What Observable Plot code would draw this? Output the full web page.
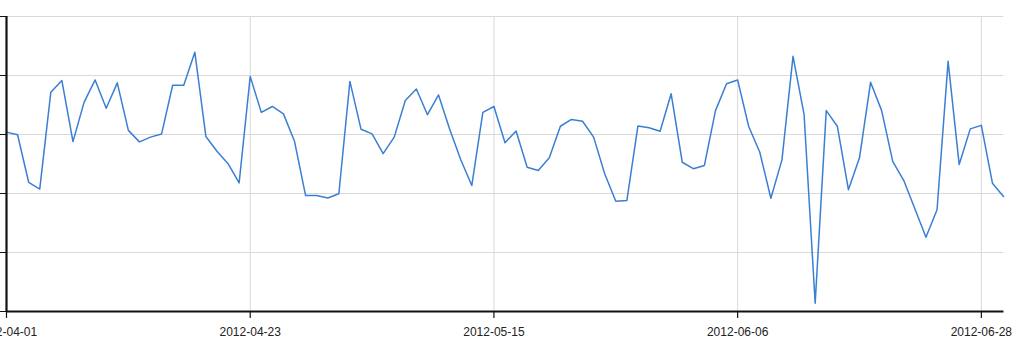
<!DOCTYPE html>
<html>
<head>
<meta charset="utf-8">
<script src="https://cdn.jsdelivr.net/npm/d3@7"></script>
<script src="https://cdn.jsdelivr.net/npm/@observablehq/plot@0.6"></script>
<style>
  html, body { margin: 0; padding: 0; background: #fff; overflow: hidden; }
  #chart svg { display: block; }
</style>
</head>
<body>
<div id="chart"></div>
<script>
const startDate = "2012-04-01";
const endDate = "2012-06-30";
const values = [
  60.8, 59.9, 43.8, 41.5, 74.3, 78.3, 57.6, 70.9, 78.5, 68.9,
  77.5, 61.4, 57.5, 59.1, 60.2, 76.7, 76.7, 87.9, 59.3, 54.3,
  50.1, 43.6, 79.7, 67.5, 69.5, 67.0, 57.7, 39.3, 39.3, 38.5,
  39.9, 78.0, 61.8, 60.2, 53.5, 59.1, 71.5, 75.4, 66.7, 73.4,
  61.9, 51.5, 42.7, 67.5, 69.5, 57.2, 61.2, 48.9, 47.8, 52.1,
  62.8, 65.1, 64.5, 59.1, 46.7, 37.4, 37.6, 62.9, 62.3, 61.1,
  73.8, 50.6, 48.4, 49.5, 68.1, 77.2, 78.5, 62.7, 54.0, 38.4,
  51.4, 86.5, 66.7, 2.8, 68.1, 62.8, 41.3, 52.1, 77.7, 68.1,
  50.9, 44.4, 34.8, 25.2, 34.5, 84.8, 49.8, 61.9, 63.1, 43.5,
  39.0
];
const xTickLabels = ["2012-04-01", "2012-04-23", "2012-05-15", "2012-06-06", "2012-06-28"];
const yTicks = [0, 20, 40, 60, 80, 100];

const parse = d3.utcParse("%Y-%m-%d");
const days = d3.utcDay.range(parse(startDate), d3.utcDay.offset(parse(endDate), 1));
const data = days.map((d, i) => ({date: d, value: values[i]}));
const xTicks = xTickLabels.map(parse);

const chart = Plot.plot({
  width: 1024,
  height: 341,
  marginLeft: 6,
  marginRight: 21,
  marginTop: 16,
  marginBottom: 30,
  style: {fontFamily: "'Liberation Sans', Arial, sans-serif", fontSize: "12px", color: "#222", background: "#fff", overflow: "visible"},
  x: {type: "utc", domain: [parse(startDate), parse(endDate)], axis: null},
  y: {domain: [0, 100], axis: null},
  marks: [
    Plot.ruleY(yTicks.slice(1), {stroke: "#d9d9d9", strokeWidth: 1, x1: parse(startDate), x2: d3.utcHour.offset(parse(endDate), 1)}),
    Plot.ruleX(xTicks.slice(1), {stroke: "#d9d9d9", strokeWidth: 1, y1: 0, y2: 100}),
    Plot.axisX({ticks: xTicks, tickFormat: d3.utcFormat("%Y-%m-%d"), tickSize: 7, tickPadding: 9, stroke: "#111", strokeWidth: 1.2, label: null, fontSize: 12}),
    Plot.axisY({ticks: yTicks, tickFormat: () => "", tickSize: 6, stroke: "#111", label: null}),
    Plot.line(data, {x: "date", y: "value", stroke: "#3b7fd4", strokeWidth: 1.5}),
    Plot.ruleX([parse(startDate)], {y1: 0, y2: 100, stroke: "#111", strokeWidth: 2.2}),
    Plot.ruleY([0], {x1: parse(startDate), x2: d3.utcHour.offset(parse(endDate), 1), stroke: "#111", strokeWidth: 2.2})
  ]
});
document.getElementById("chart").appendChild(chart);
</script>
</body>
</html>
